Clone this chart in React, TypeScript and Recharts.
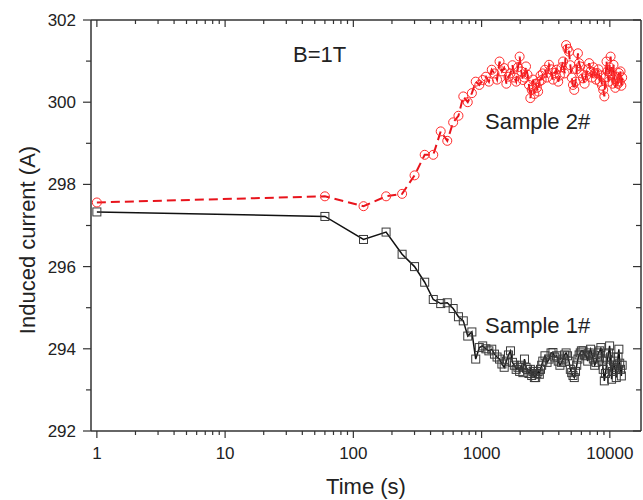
import { LineChart, Line, XAxis, YAxis } from "recharts";

// elapsed time (s), shared by both samples
const times = [
  1, 60, 120, 180, 240, 300, 360, 420, 480, 540, 600, 660, 720, 780, 840, 900,
  960, 1020, 1080, 1140, 1200, 1260, 1320, 1380, 1440, 1500, 1560, 1620, 1680,
  1740, 1800, 1860, 1920, 1980, 2040, 2100, 2160, 2220, 2280, 2340, 2400, 2460,
  2520, 2580, 2640, 2700, 2760, 2820, 2880, 2940, 3000, 3120, 3240, 3360, 3480,
  3600, 3720, 3840, 3960, 4080, 4200, 4320, 4440, 4560, 4680, 4800, 4920, 5040,
  5160, 5280, 5400, 5520, 5640, 5760, 5880, 6000, 6180, 6360, 6540, 6720, 6900,
  7080, 7260, 7440, 7620, 7800, 7980, 8160, 8340, 8520, 8700, 8880, 9060, 9240,
  9420, 9600, 9780, 9960, 10140, 10320, 10500, 10680, 10860, 11040, 11220,
  11400, 11580, 11760, 11940, 12120, 12300, 12480,
];

// Sample 1# induced current (A)
const sample1 = [
  297.33, 297.22, 296.66, 296.84, 296.3, 296.0, 295.62, 295.2, 295.1, 295.12,
  294.98, 294.78, 294.68, 294.31, 294.41, 293.75, 294.03, 294.07, 294.0, 293.95,
  293.99, 293.87, 293.8, 293.75, 293.63, 293.55, 293.7, 293.85, 293.95, 293.67,
  293.6, 293.5, 293.55, 293.45, 293.6, 293.42, 293.75, 293.55, 293.5, 293.4,
  293.5, 293.35, 293.45, 293.3, 293.3, 293.4, 293.45, 293.38, 293.5, 293.6,
  293.7, 293.83, 293.67, 293.75, 293.9, 293.91, 293.8, 293.83, 293.7, 293.6,
  293.67, 293.75, 293.85, 293.9, 293.83, 293.7, 293.5, 293.42, 293.35, 293.3,
  293.45, 293.6, 293.75, 293.85, 293.9, 293.95, 293.95, 293.85, 293.83, 293.7,
  293.9, 293.99, 293.85, 293.75, 293.6, 293.67, 293.8, 293.9, 293.95, 294.03,
  293.7, 293.5, 293.22, 293.4, 293.6, 293.75, 293.9, 294.07, 293.8, 293.26,
  293.45, 293.7, 293.55, 293.5, 293.3, 293.6, 293.8, 293.99, 293.65, 293.5,
  293.34, 293.6,
];

// Sample 2# induced current (A)
const sample2 = [
  297.56, 297.71, 297.47, 297.71, 297.77, 298.22, 298.72, 298.72, 299.29,
  299.06, 299.51, 299.67, 300.14, 300.0, 300.22, 300.5, 300.42, 300.54, 300.62,
  300.5, 300.79, 300.7, 300.55, 300.99, 300.75, 300.83, 300.45, 300.62, 300.7,
  300.9, 300.6, 300.5, 300.85, 301.11, 300.75, 300.54, 300.6, 300.87, 300.67,
  300.42, 300.1, 300.3, 300.55, 300.2, 300.45, 300.35, 300.26, 300.5, 300.65,
  300.54, 300.7, 300.79, 300.6, 300.91, 300.8, 300.55, 300.71, 300.79, 300.5,
  300.65, 300.85, 300.99, 300.7, 301.39, 301.3, 301.23, 300.9, 300.6, 300.42,
  300.3, 300.5, 300.8, 301.19, 300.95, 300.87, 300.7, 300.58, 300.45, 300.65,
  300.8, 300.95, 300.75, 300.6, 300.85, 300.7, 300.55, 300.71, 300.8, 300.5,
  300.65, 300.4, 300.3, 300.14, 300.6, 300.99, 300.75, 300.5, 300.85, 301.11,
  300.7, 300.45, 300.91, 300.6, 300.35, 300.55, 300.62, 300.45, 300.71, 300.5,
  300.75, 300.4, 300.6,
];

const xMajor = [1, 10, 100, 1000, 10000];
const xMinor = [
  2, 3, 4, 5, 6, 7, 8, 9, 20, 30, 40, 50, 60, 70, 80, 90, 200, 300, 400, 500,
  600, 700, 800, 900, 2000, 3000, 4000, 5000, 6000, 7000, 8000, 9000,
];
const yMajor = [292, 294, 296, 298, 300, 302];
const yMinor = [293, 295, 297, 299, 301];

const data = times.map((t, i) => ({ t, s1: sample1[i], s2: sample2[i] }));
const xTicks = [...xMajor, ...xMinor].sort((a, b) => a - b);
const yTicks = [...yMajor, ...yMinor].sort((a, b) => a - b);

const FONT = '"Liberation Sans", Arial, sans-serif';
const AXIS = "#333";

function BottomTick(props: any) {
  const { x, y, payload } = props;
  const major = xMajor.includes(payload.value);
  return (
    <g>
      <line x1={x} x2={x} y1={y} y2={y + (major ? 7 : 4)} stroke={AXIS} strokeWidth={1.2} />
      {major && (
        <text x={x} y={y + 28} textAnchor="middle" fontSize={17} fontFamily={FONT} fill="#222">
          {payload.value}
        </text>
      )}
    </g>
  );
}

function TopTick(props: any) {
  const { x, y, payload } = props;
  const major = xMajor.includes(payload.value);
  return <line x1={x} x2={x} y1={y} y2={y + (major ? 7 : 4)} stroke={AXIS} strokeWidth={1.2} />;
}

function LeftTick(props: any) {
  const { x, y, payload } = props;
  const major = yMajor.includes(payload.value);
  return (
    <g>
      <line x1={x - (major ? 8 : 5)} x2={x} y1={y} y2={y} stroke={AXIS} strokeWidth={1.2} />
      {major && (
        <text x={x - 15} y={y + 6} textAnchor="end" fontSize={17} fontFamily={FONT} fill="#222">
          {payload.value}
        </text>
      )}
    </g>
  );
}

function RightTick(props: any) {
  const { x, y, payload } = props;
  const major = yMajor.includes(payload.value);
  return <line x1={x - (major ? 8 : 5)} x2={x} y1={y} y2={y} stroke={AXIS} strokeWidth={1.2} />;
}

function SquareDot(props: any) {
  const { cx, cy } = props;
  return <rect x={cx - 4} y={cy - 4} width={8} height={8} fill="none" stroke="#3a3a3a" strokeWidth={1} />;
}

function CircleDot(props: any) {
  const { cx, cy } = props;
  return <circle cx={cx} cy={cy} r={4.5} fill="none" stroke="#ff2a2a" strokeWidth={1} />;
}

export default function App() {
  return (
    <div style={{ position: "absolute", left: 0, top: 0, width: 643, height: 500, background: "#fff" }}>
      <LineChart width={643} height={500} data={data} margin={{ top: 19, right: 1, bottom: 0, left: 0 }}>
        <XAxis
          dataKey="t"
          type="number"
          scale="log"
          domain={[0.9, 17500]}
          allowDataOverflow
          ticks={xTicks}
          interval={0}
          height={69}
          tickSize={0}
          tickMargin={0}
          tickLine={false}
          tick={<BottomTick />}
          axisLine={{ stroke: AXIS, strokeWidth: 1.5 }}
        />
        <XAxis
          xAxisId="top"
          dataKey="t"
          orientation="top"
          type="number"
          scale="log"
          domain={[0.9, 17500]}
          allowDataOverflow
          ticks={xTicks}
          interval={0}
          height={1}
          tickSize={0}
          tickMargin={0}
          tickLine={false}
          tick={<TopTick />}
          axisLine={{ stroke: AXIS, strokeWidth: 1.5 }}
        />
        <YAxis
          type="number"
          domain={[292, 302]}
          allowDataOverflow
          ticks={yTicks}
          interval={0}
          width={91}
          tickSize={0}
          tickMargin={0}
          tickLine={false}
          tick={<LeftTick />}
          axisLine={{ stroke: AXIS, strokeWidth: 1.5 }}
        />
        <YAxis
          yAxisId="right"
          orientation="right"
          type="number"
          domain={[292, 302]}
          allowDataOverflow
          ticks={yTicks}
          interval={0}
          width={1}
          tickSize={0}
          tickMargin={0}
          tickLine={false}
          tick={<RightTick />}
          axisLine={{ stroke: AXIS, strokeWidth: 1.5 }}
        />
        <Line
          dataKey="s1"
          stroke="#111"
          strokeWidth={1.5}
          dot={(p: any) => <SquareDot key={`s1-${p.index}`} {...p} />}
          activeDot={false}
          isAnimationActive={false}
        />
        <Line
          dataKey="s2"
          xAxisId="top"
          yAxisId="right"
          stroke="#e8141c"
          strokeWidth={2}
          strokeDasharray="9 5"
          dot={(p: any) => <CircleDot key={`s2-${p.index}`} {...p} />}
          activeDot={false}
          isAnimationActive={false}
        />
        <text x={35} y={240} transform="rotate(-90 35 240)" textAnchor="middle" fontSize={22} fontFamily={FONT} fill="#222">
          Induced current (A)
        </text>
        <text x={366} y={494} textAnchor="middle" fontSize={22} fontFamily={FONT} fill="#222">
          Time (s)
        </text>
        <text x={293} y={62} fontSize={22} fontFamily={FONT} fill="#222">
          B=1T
        </text>
        <text x={485} y={129} fontSize={22} fontFamily={FONT} fill="#222">
          Sample 2#
        </text>
        <text x={485} y={333} fontSize={22} fontFamily={FONT} fill="#222">
          Sample 1#
        </text>
      </LineChart>
    </div>
  );
}
